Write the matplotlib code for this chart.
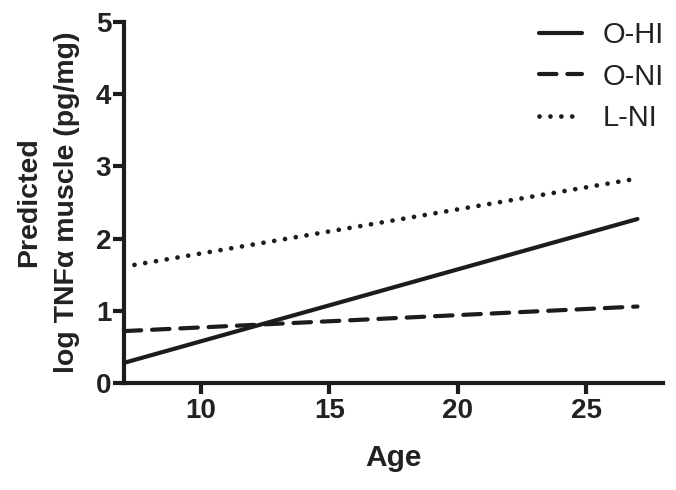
import numpy as np
import matplotlib
matplotlib.use("Agg")
import matplotlib.pyplot as plt

plt.rcParams['font.family'] = ['Liberation Sans', 'DejaVu Sans']

# predicted lines: endpoints at age 7 and 27
age = [7, 27]
o_hi = [0.28, 2.27]
o_ni = [0.72, 1.06]
l_ni = [1.61, 2.83]
labels = ['O-HI', 'O-NI', 'L-NI']

ink = '#1c1c1c'
txt = '#222222'

fig = plt.figure(figsize=(6.76, 4.90), dpi=100)
ax = fig.add_axes([0.183, 0.218, 0.798, 0.738])

lw = 3.0
ax.plot(age, o_hi, color=ink, lw=lw, solid_capstyle='round', label=labels[0])
ax.plot(age, o_ni, color=ink, lw=lw, dashes=(4.2, 2.6), dash_capstyle='round', label=labels[1])
ax.plot(age, l_ni, color=ink, lw=3.4, dashes=(0.01, 2.3), dash_capstyle='round', label=labels[2])

ax.set_xlim(7, 28)
ax.set_ylim(0, 5)
ax.set_xticks([10, 15, 20, 25])
ax.set_yticks([0, 1, 2, 3, 4, 5])

for s in ['top', 'right']:
    ax.spines[s].set_visible(False)
for s in ['left', 'bottom']:
    ax.spines[s].set_linewidth(3)
    ax.spines[s].set_color(ink)

ax.tick_params(axis='both', length=8, width=3, color=ink, labelsize=20, labelcolor=txt)
ax.tick_params(axis='y', pad=1)
ax.tick_params(axis='x', pad=3)
for t in ax.get_xticklabels() + ax.get_yticklabels():
    t.set_fontweight('bold')

ax.set_xlabel('Age', fontsize=21.5, fontweight='bold', color=txt, labelpad=14)
ax.set_ylabel('Predicted\nlog TNF\u03b1 muscle (pg/mg)', fontsize=20.5, fontweight='bold',
              color=txt, labelpad=11, linespacing=1.6)

leg = ax.legend(loc='upper right', bbox_to_anchor=(1.033, 1.05), frameon=False, fontsize=21,
                handlelength=1.45, handletextpad=0.7, labelspacing=0.47, borderaxespad=0.2)
for t in leg.get_texts():
    t.set_color(txt)

fig.savefig('out.png', dpi=100)
